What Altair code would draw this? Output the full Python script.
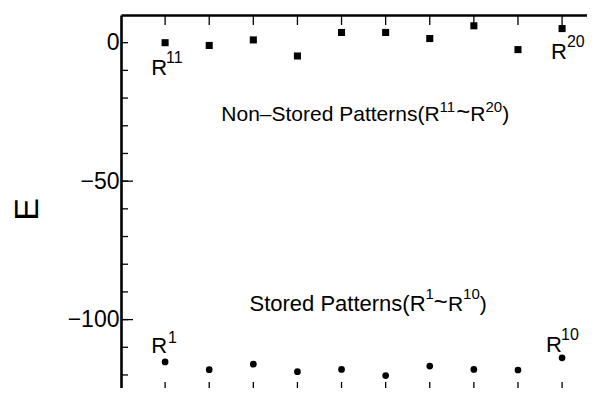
import altair as alt
import pandas as pd

# ---- data ----
pattern_idx = list(range(1, 11))
stored_E = [-115.3, -118.1, -116.1, -118.8, -118.0, -120.2, -116.8, -118.0, -118.2, -113.8]
nonstored_E = [0.0, -1.0, 1.0, -4.8, 3.7, 3.7, 1.5, 6.1, -2.5, 5.1]

y_label_ticks = [0, -50, -100]
y_long_ticks = [-50, -100]
y_short_ticks = list(range(-120, 1, 10))
x_ticks = list(range(1, 11))

# annotation pieces: text, x, y (data units), role, align
annotations = [
    ("Non\u2013Stored Patterns(R", 7.223, -28.34, "main", "right"),
    ("11", 7.223, -25.09, "sup", "left"),
    ("~", 7.601, -28.0, "tilde", "left"),
    ("R", 7.919, -28.34, "main", "left"),
    ("20", 8.264, -25.09, "sup", "left"),
    (")", 8.642, -28.34, "main", "left"),
    ("Stored Patterns(R", 6.905, -96.93, "main2", "right"),
    ("1", 6.905, -92.6, "sup", "left"),
    ("~", 7.093, -96.6, "tilde", "left"),
    ("R", 7.411, -96.93, "main", "left"),
    ("10", 7.756, -92.6, "sup", "left"),
    (")", 8.134, -96.93, "main", "left"),
    ("R", 0.683, -11.73, "lab", "left"),
    ("11", 1.023, -7.40, "labsup", "left"),
    ("R", 9.749, -5.96, "lab", "left"),
    ("20", 10.11, -1.62, "labsup", "left"),
    ("R", 0.683, -112.09, "lab", "left"),
    ("1", 1.068, -108.48, "labsup", "left"),
    ("R", 9.637, -111.73, "lab", "left"),
    ("10", 9.978, -107.4, "labsup", "left"),
]

FONT = "Liberation Sans"
sizes = {"main": 21, "main2": 22, "tilde": 24, "sup": 15, "lab": 22, "labsup": 16}

W, H = 466, 373
xs = alt.Scale(domain=[0, 10.565], nice=False, zero=False)
ys = alt.Scale(domain=[-124.7, 10], nice=False, zero=False)

yaxis = alt.Axis(values=y_label_ticks, ticks=False, tickSize=0, domain=True,
                 domainColor="black", domainWidth=2.6, grid=False,
                 labelFontSize=23, labelPadding=2, labelFont=FONT, labelColor="black",
                 title="E", titleFont=FONT, titleFontSize=34, titleFontWeight="normal",
                 titleColor="black", titleAngle=270, titleAlign="center",
                 titleBaseline="middle", titleX=-94, titleY=194)
xaxis = alt.Axis(orient="top", values=x_ticks, ticks=False, labels=False, domain=True,
                 domainColor="black", domainWidth=2.4, grid=False, title="")


def X(f):
    return alt.X(f, scale=xs, axis=xaxis)


def Y(f):
    return alt.Y(f, scale=ys, axis=yaxis)


df_s = pd.DataFrame({"n": pattern_idx, "E": stored_E})
df_n = pd.DataFrame({"n": pattern_idx, "E": nonstored_E})

circles = alt.Chart(df_s).mark_point(shape="circle", filled=True, color="black",
                                     size=45, opacity=1).encode(x=X("n:Q"), y=Y("E:Q"))
squares = alt.Chart(df_n).mark_point(shape="square", filled=True, color="black",
                                     size=50, opacity=1).encode(x=X("n:Q"), y=Y("E:Q"))

short_t = alt.Chart(pd.DataFrame({"E": y_short_ticks})).mark_rule(
    color="black", strokeWidth=1.3).encode(
    y=Y("E:Q"), x=alt.value(0), x2=alt.value(7))
long_t = alt.Chart(pd.DataFrame({"E": y_long_ticks})).mark_rule(
    color="black", strokeWidth=1.3).encode(
    y=Y("E:Q"), x=alt.value(0), x2=alt.value(12))
top_t = alt.Chart(pd.DataFrame({"n": x_ticks})).mark_rule(
    color="black", strokeWidth=1.3).encode(
    x=X("n:Q"), y=alt.value(0), y2=alt.value(10))
bot_t = alt.Chart(pd.DataFrame({"n": x_ticks})).mark_rule(
    color="black", strokeWidth=1.3).encode(
    x=X("n:Q"), y=alt.value(H - 6), y2=alt.value(H))

text_layers = []
for role, fs in sizes.items():
    for al in ("left", "right"):
        rows = [a for a in annotations if a[3] == role and a[4] == al]
        if not rows:
            continue
        d = pd.DataFrame({"t": [r[0] for r in rows],
                          "n": [r[1] for r in rows],
                          "E": [r[2] for r in rows]})
        text_layers.append(
            alt.Chart(d).mark_text(align=al, baseline="alphabetic", font=FONT,
                                   fontSize=fs, color="black").encode(
                x=X("n:Q"), y=Y("E:Q"), text="t:N"))

chart = alt.layer(circles, squares, short_t, long_t, top_t, bot_t, *text_layers).properties(
    width=W, height=H,
    autosize=alt.AutoSizeParams(type="none"),
    padding={"left": 113, "top": 7, "right": 0, "bottom": 0},
    background="white",
).configure_view(strokeWidth=0, stroke=None)

chart.save("out.html", embed_options={"renderer": "svg", "actions": False})
